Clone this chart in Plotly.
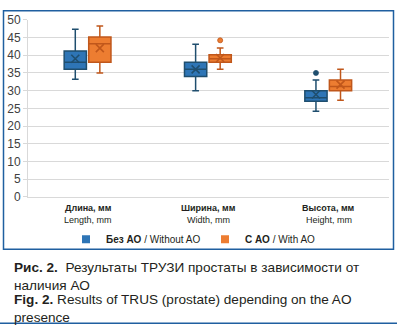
import plotly.graph_objects as go

# ---------------- data ----------------
categories_ru = ["Длина, мм", "Ширина, мм", "Высота, мм"]
categories_en = ["Length, mm", "Width, mm", "Height, mm"]

series_names = ["<b>Без АО</b> / Without AO", "<b>С АО</b> / With AO"]

no_ao_q1 = [36, 34, 27]
no_ao_median = [38, 36, 28]
no_ao_q3 = [41.2, 38, 30]
no_ao_low = [33.2, 30, 24.2]
no_ao_high = [47.3, 43.1, 33]
no_ao_mean = [39, 36, 28.9]
no_ao_outliers = [[], [], [35]]

ao_q1 = [38, 38, 30]
ao_median = [43.2, 39, 31.2]
ao_q3 = [45.1, 40.1, 33]
ao_low = [35, 36, 27.3]
ao_high = [48.2, 42, 36]
ao_mean = [42, 39.2, 31.7]
ao_outliers = [[], [44.2], []]

y_ticks = [0, 5, 10, 15, 20, 25, 30, 35, 40, 45, 50]

# ---------------- style ----------------
W, H = 397, 333
FILL = ["#2e75b6", "#ed7d31"]
EDGE = ["#1f4e6e", "#c0571b"]
OFFS = [-0.107, 0.097]
BOXW = 0.185
GRID = "#d9d9d9"
SANS = "Liberation Sans, Arial, sans-serif"
LEG_X = [66, 205]  # legend left edges, px

def py(px):
    return 1 - px / H

fig = go.Figure()

series = [
    (no_ao_q1, no_ao_median, no_ao_q3, no_ao_low, no_ao_high, no_ao_mean, no_ao_outliers),
    (ao_q1, ao_median, ao_q3, ao_low, ao_high, ao_mean, ao_outliers),
]

for s, (q1, med, q3, lo, hi, mean, outl) in enumerate(series):
    xs = [i + OFFS[s] for i in range(len(categories_ru))]
    fig.add_trace(go.Box(
        x=xs, q1=q1, median=med, q3=q3, lowerfence=lo, upperfence=hi,
        width=BOXW, whiskerwidth=0.3, boxpoints=False,
        fillcolor=FILL[s], line=dict(color=EDGE[s], width=1.5),
        showlegend=False, hoverinfo="skip",
    ))
    fig.add_trace(go.Scatter(
        x=xs, y=mean, mode="markers",
        marker=dict(symbol="x-thin", size=8, line=dict(color=EDGE[s], width=1.6)),
        showlegend=False, hoverinfo="skip",
    ))
    ox, oy = [], []
    for i, vals in enumerate(outl):
        for v in vals:
            ox.append(i + OFFS[s])
            oy.append(v)
    if ox:
        fig.add_trace(go.Scatter(
            x=ox, y=oy, mode="markers",
            marker=dict(symbol="circle", size=5, color=FILL[s] if s == 1 else EDGE[s],
                        line=dict(color=EDGE[s], width=0.8)),
            showlegend=False, hoverinfo="skip",
        ))
    # legend entry (one legend per item so each can be placed)
    fig.add_trace(go.Scatter(
        x=[None], y=[None], mode="markers", name=series_names[s],
        legend="legend" if s == 0 else "legend2",
        marker=dict(symbol="square", size=8, color=FILL[s]),
    ))

# category labels
for i, (ru, en) in enumerate(zip(categories_ru, categories_en)):
    fig.add_annotation(x=i, y=py(210), xref="x", yref="paper", text=f"<b>{ru}</b>",
                       showarrow=False, font=dict(family=SANS, size=9, color="#231f20"),
                       xanchor="center", yanchor="middle")
    fig.add_annotation(x=i, y=py(222), xref="x", yref="paper", text=en,
                       showarrow=False, font=dict(family=SANS, size=9, color="#231f20"),
                       xanchor="center", yanchor="middle")

# caption
cap = [
    ("<b>Рис. 2.</b>  Результаты ТРУЗИ простаты в зависимости от<br>наличия АО", 281),
    ("<b>Fig. 2.</b> Results of TRUS (prostate) depending on the AO<br>presence", 315),
]
for t, yy in cap:
    fig.add_annotation(x=12 / W, y=py(yy), xref="paper", yref="paper", text=t,
                       showarrow=False, font=dict(family=SANS, size=13.6, color="#231f20"),
                       xanchor="left", yanchor="middle", align="left")

# frame and bottom rule
fig.add_shape(type="rect", xref="paper", yref="paper",
              x0=3.5 / W, x1=393.5 / W, y0=py(253), y1=py(4),
              line=dict(color="#1f5fa0", width=1.5), fillcolor="rgba(0,0,0,0)")
fig.add_shape(type="line", xref="paper", yref="paper",
              x0=0, x1=1, y0=py(330), y1=py(330),
              line=dict(color="#1f5fa0", width=1.5))

leg_common = dict(orientation="h", xanchor="left", y=py(242.5), yanchor="middle",
                  font=dict(family=SANS, size=10, color="#231f20"),
                  bgcolor="rgba(0,0,0,0)", itemclick=False, itemdoubleclick=False)

fig.update_layout(
    width=W, height=H,
    margin=dict(l=0, r=0, t=0, b=0),
    paper_bgcolor="white", plot_bgcolor="white",
    xaxis=dict(domain=[28 / W, 389 / W], range=[-0.5, 2.5], showticklabels=False,
               showgrid=False, zeroline=False, showline=True, linecolor=GRID, linewidth=1,
               fixedrange=True),
    yaxis=dict(domain=[py(198.3), py(13.3)], range=[0, 50], tickvals=y_ticks,
               showgrid=True, gridcolor=GRID, gridwidth=1, zeroline=False,
               showline=True, linecolor=GRID, linewidth=1,
               ticks="outside", ticklen=4, tickcolor=GRID,
               tickfont=dict(family=SANS, size=12, color="#404040"), fixedrange=True),
    legend=dict(x=LEG_X[0] / W, **leg_common),
    legend2=dict(x=LEG_X[1] / W, **leg_common),
    showlegend=True,
)

fig.write_html("out.html")
